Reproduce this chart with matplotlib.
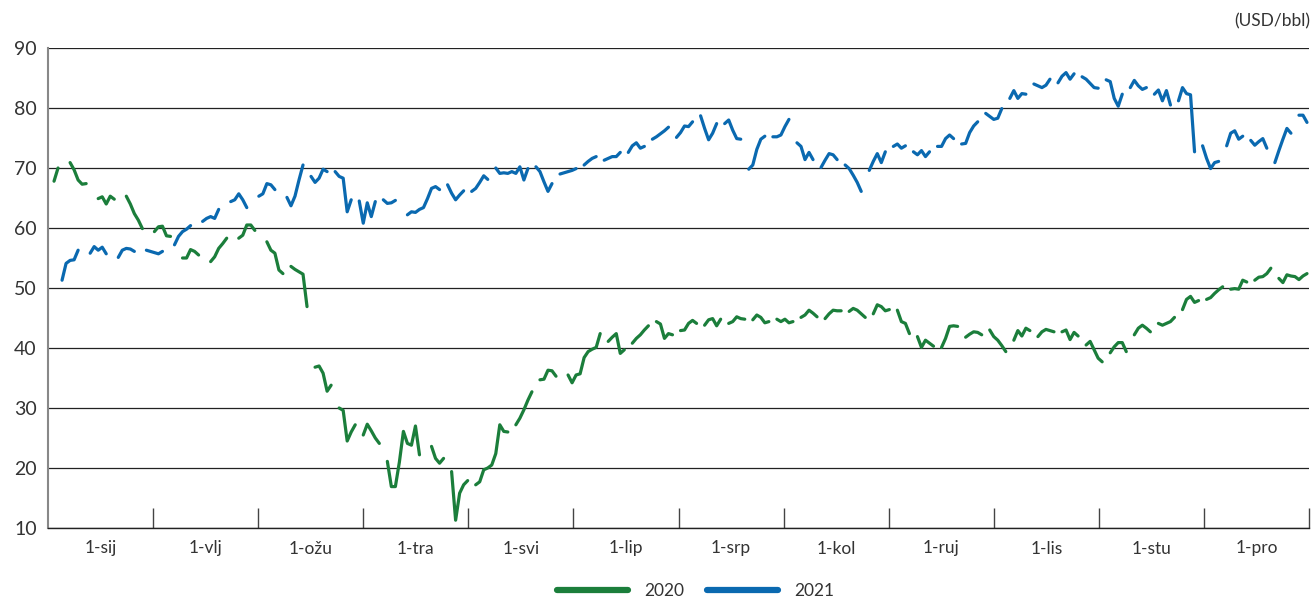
import numpy as np
import pandas as pd
import matplotlib
matplotlib.use('Agg')
import matplotlib.pyplot as plt

plt.rcParams['font.family'] = ['Lato', 'DejaVu Sans']

months = ['1-sij', '1-vlj', '1-ožu', '1-tra', '1-svi', '1-lip',
          '1-srp', '1-kol', '1-ruj', '1-lis', '1-stu', '1-pro']
y_ticks = [10, 20, 30, 40, 50, 60, 70, 80, 90]

# Brent, USD/bbl, one value per working day (Mon-Fri), None = no quote
brent_2020 = [
    None, 67.8, 70.0, 70.9, 69.7, 68.0, 67.3, 67.4, 64.9, 65.2, 64.0, 65.3, 64.8, 65.3, 64.0, 62.4, 61.3, 59.9, 59.4, 60.2, 60.3, 58.7, 58.6,
    55.0, 55.0, 56.4, 56.1, 55.5, 54.4, 55.2, 56.6, 57.4, 58.3, 58.3, 58.8, 60.5, 60.5, 59.6, 57.7, 56.3, 55.8, 53.0, 52.4,
    53.6, 53.1, 52.7, 52.3, 46.9, 36.8, 37.0, 35.8, 32.8, 33.8, 30.0, 29.6, 24.5, 26.0, 27.2, 25.5, 27.3, 26.2, 25.0, 24.1, 21.1, 16.9,
    16.9, 21.0, 26.1, 24.1, 23.8, 27.0, 22.2, None, None, 23.6, 21.6, 20.8, 21.6, 19.4, 11.3, 15.8, 17.2, 17.9, 17.2, 17.7, 19.7, 20.0,
    20.5, 22.4, 27.2, 26.1, 26.0, None, 27.2, 28.3, 29.7, 31.3, 32.7, 34.7, 34.8, 36.3, 36.2, 35.3, None, 35.5, 34.2, 35.5, 35.7,
    38.4, 39.4, 39.8, 40.1, 42.4, 41.1, 41.8, 42.4, 39.1, 39.7, 40.8, 41.6, 42.2, 43.0, 43.7, 44.4, 44.0, 41.6, 42.4, 42.2, 42.9, 43.0,
    44.1, 44.6, 44.1, 43.8, 44.7, 44.9, 43.7, 44.8, 44.1, 44.4, 45.2, 44.9, 44.8, 44.7, 45.5, 45.1, 44.2, 44.4, 44.8, 44.4, 44.8, 44.2, 44.4,
    45.1, 45.5, 46.3, 45.8, 45.2, 44.9, 45.7, 46.3, 46.2, 46.2, 46.1, 46.6, 46.3, 45.7, 45.1, 45.7, 47.2, 46.9, 46.2, 46.4, None,
    46.3, 44.4, 44.1, 42.4, 41.9, 40.1, 41.3, 40.8, 40.3, 40.1, 41.6, 43.6, 43.7, 43.6, 41.8, 42.3, 42.7, 42.6, 42.2, 43.0, 41.9, 41.3,
    40.4, 39.4, 41.3, 42.9, 42.0, 43.3, 42.9, 41.9, 42.7, 43.1, 42.9, 42.7, 42.7, 43.0, 41.4, 42.6, 42.0, 40.5, 41.1, 39.7, 38.3, 37.7,
    39.2, 40.2, 40.9, 40.9, 39.4, 42.2, 43.3, 43.8, 43.3, 42.7, 44.1, 43.8, 44.1, 44.4, 45.1, 46.4, 48.1, 48.6, 47.6, 47.9, 48.1,
    48.4, 49.1, 49.7, 50.2, 49.8, 49.9, 49.8, 51.3, 51.0, 51.3, 51.8, 51.9, 52.4, 53.3, 51.6, 50.9, 52.2, 52.0, None, 51.9, 51.4, 52.0, 52.4,
]

brent_2021 = [
    None, 51.3, 54.1, 54.6, 54.7, 56.3, 55.8, 56.9, 56.3, 56.8, 55.7, 55.1, 56.3, 56.6, 56.5, 56.1, 56.3, 56.1, 55.9, 55.7, 56.1,
    57.2, 58.6, 59.4, 59.8, 60.4, 61.1, 61.6, 61.9, 61.6, 63.1, 64.4, 64.7, 65.7, 64.7, 63.4, 65.3, 65.7, 67.4, 67.2, 66.4,
    65.1, 63.7, 65.3, 68.0, 70.5, 68.6, 67.6, 68.3, 69.8, 69.4, 69.4, 68.6, 68.3, 62.7, 64.7, 64.5, 60.8, 64.2, 61.9, 64.4, 64.7, 64.1, 64.2,
    64.6, None, None, 62.2, 62.7, 62.6, 63.1, 63.4, 64.9, 66.6, 66.9, 66.4, 67.2, 65.8, 64.7, 65.5, 66.2, 66.1, 66.6, 67.6, 68.7, 68.1,
    None, 70.0, 69.1, 69.2, 69.1, 69.4, 69.1, 70.2, 68.0, 69.9, 70.2, 69.4, 67.7, 66.1, 67.4, 69.0, 69.2, 69.4, 69.6, 69.9, None,
    70.5, 71.1, 71.6, 71.9, 71.3, 71.6, 71.9, 71.9, 72.6, 72.6, 73.7, 74.2, 73.3, 73.6, 74.8, 75.2, 75.7, 76.2, 76.8, 75.1, 75.9, 77.0,
    76.9, 77.7, 78.7, 76.6, 74.7, 75.8, 77.4, 77.4, 78.0, 76.3, 74.9, 74.8, 69.8, 70.5, 73.1, 74.8, 75.3, 75.2, 75.2, 75.5, 76.9, 78.1,
    74.2, 73.6, 71.4, 72.6, 71.4, 70.1, 71.3, 72.4, 72.2, 71.4, 70.5, 69.9, 68.8, 67.6, 66.1, 69.6, 71.1, 72.4, 70.9, 72.7, None, 73.6,
    74.0, 73.3, 73.7, 72.7, 72.2, 72.9, 71.9, 72.7, 73.6, 73.6, 74.9, 75.5, 74.9, 74.0, 74.1, 75.9, 77.0, 77.7, 79.1, 78.6, 78.1, 78.3,
    79.9, 81.6, 82.9, 81.6, 82.4, 82.3, 84.0, 83.7, 83.4, 83.8, 84.8, 84.2, 85.3, 85.9, 84.8, 85.7, 85.2, 84.8, 84.1, 83.4, 83.3,
    84.7, 84.4, 81.6, 80.3, 82.3, 83.4, 84.6, 83.7, 83.1, 83.4, 82.3, 83.0, 81.2, 82.9, 80.5, 81.2, 83.4, 82.4, 82.2, 72.7, 73.7, 71.6,
    69.9, 70.9, 71.1, 73.7, 75.8, 76.2, 74.8, 75.3, 74.6, 73.8, 74.4, 74.9, 73.3, 70.9, 72.9, 74.8, 76.6, 75.8, None, None, 78.8, 78.8, 77.6,
]


def daily(year, values):
    days = pd.bdate_range(f'{year}-01-01', f'{year}-12-31')
    return pd.Series(values, index=days.strftime('%m-%d'), dtype=float)


# one row per calendar day (mm-dd) on which at least one year has a quote
df = pd.concat({'2020': daily(2020, brent_2020), '2021': daily(2021, brent_2021)}, axis=1)
df = df.dropna(how='all')
df = df.reindex(sorted(set(df.index) | {'01-01'}))
x = np.arange(len(df))

fig = plt.figure(figsize=(13.16, 5.99), dpi=100)
ax = fig.add_axes([48 / 1316, 71 / 599, 1261 / 1316, 480 / 599])

ax.plot(x, df['2020'], color='#1b7e3b', lw=2.3, label='2020', solid_joinstyle='round', solid_capstyle='round')
ax.plot(x, df['2021'], color='#0a69b0', lw=2.3, label='2021', solid_joinstyle='round', solid_capstyle='round')

ax.set_xlim(-0.5, len(df) - 0.5)
ax.set_ylim(10, 90)
ax.set_yticks(y_ticks)
ax.yaxis.grid(True, color='#222222', lw=0.9)
ax.set_axisbelow(True)
ax.tick_params(axis='y', length=0, pad=8, labelsize=14, labelcolor='#333333')

# month separators (equal intervals) and labels in between
bounds = np.linspace(-0.5, len(df) - 0.5, 13)
ax.set_xticks(bounds[1:])
ax.set_xticklabels([])
ax.tick_params(axis='x', which='major', direction='in', length=14.4, width=1, color='#444444')
ax.set_xticks((bounds[:-1] + bounds[1:]) / 2, minor=True)
ax.set_xticklabels(months, minor=True)
ax.tick_params(axis='x', which='minor', length=0, pad=9, labelsize=12.5, labelcolor='#333333')

for s in ['top', 'right']:
    ax.spines[s].set_visible(False)
ax.spines['left'].set_color('#888888')
ax.spines['left'].set_linewidth(1.5)
ax.spines['bottom'].set_color('#222222')
ax.spines['bottom'].set_linewidth(1)

fig.text(1310 / 1316, 1 - 21 / 599, '(USD/bbl)', ha='right', va='center', fontsize=12.5, color='#333333')

leg = fig.legend(loc='center', bbox_to_anchor=(0.5285, 1 - 591 / 599), ncol=2, frameon=False,
                 handlelength=4.1, handletextpad=0.95, columnspacing=1.3, fontsize=12.5)
for h in leg.get_lines():
    h.set_linewidth(4.5)
    h.set_solid_capstyle('round')
for t in leg.get_texts():
    t.set_color('#333333')

fig.savefig('out.png', dpi=100)
